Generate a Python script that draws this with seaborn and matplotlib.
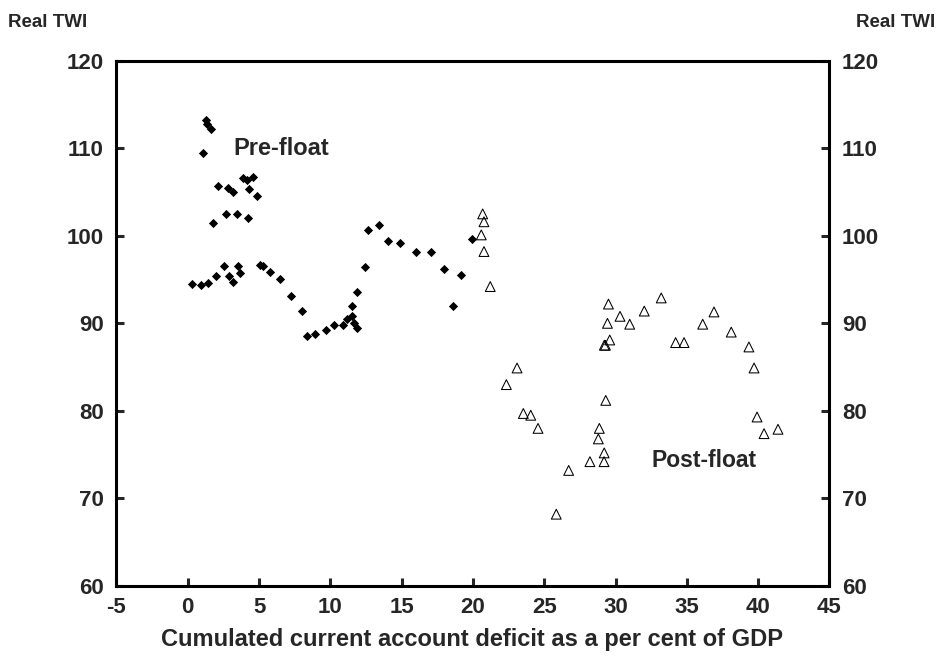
import matplotlib
matplotlib.use("Agg")
import matplotlib.pyplot as plt
import pandas as pd
import seaborn as sns

# pre-float: cumulated CA deficit (% of GDP) vs real TWI
pre_x = [1.26, 1.33, 1.61, 1.05, 2.14, 2.80, 3.19, 3.89, 4.13, 4.59, 4.31, 4.85,
         1.79, 2.70, 3.45, 4.20, 0.29, 0.95, 1.42, 1.98, 2.52, 2.89, 3.17, 3.54,
         3.64, 5.04, 5.29, 5.79, 6.44, 7.27, 8.02, 8.38, 8.94, 9.69, 10.23, 10.88,
         11.16, 11.54, 11.65, 11.84, 11.54, 11.84, 12.41, 12.66, 13.41, 14.04,
         14.88, 16.00, 17.03, 17.95, 19.16, 18.60, 19.91]
pre_y = [113.2, 112.8, 112.2, 109.4, 105.7, 105.5, 105.0, 106.6, 106.4, 106.7, 105.4, 104.5,
         101.5, 102.5, 102.5, 102.0, 94.5, 94.4, 94.6, 95.4, 96.6, 95.4, 94.7, 96.6,
         95.8, 96.7, 96.5, 95.9, 95.1, 93.1, 91.4, 88.5, 88.8, 89.2, 89.8, 89.8,
         90.5, 90.8, 90.0, 89.5, 92.0, 93.6, 96.4, 100.7, 101.2, 99.4,
         99.2, 98.2, 98.1, 96.2, 95.5, 92.0, 99.6]

post_x = [20.68, 20.77, 20.58, 20.77, 21.21, 23.09, 22.34, 23.53, 24.05, 24.56, 25.84,
          26.71, 28.20, 29.19, 29.20, 28.79, 28.86, 29.31, 29.21, 29.29, 29.59, 29.43,
          29.50, 30.31, 30.99, 32.01, 33.20, 34.21, 34.80, 36.11, 36.90, 38.11, 39.35,
          39.71, 39.92, 40.41, 41.39]
post_y = [102.5, 101.6, 100.1, 98.2, 94.2, 84.9, 83.0, 79.7, 79.5, 78.0, 68.2,
          73.2, 74.2, 74.2, 75.2, 76.8, 78.0, 81.2, 87.5, 87.5, 88.1, 90.0,
          92.2, 90.8, 89.9, 91.4, 92.9, 87.8, 87.8, 89.9, 91.3, 89.0, 87.3,
          84.9, 79.3, 77.4, 77.9]

x_ticks = [-5, 0, 5, 10, 15, 20, 25, 30, 35, 40, 45]
y_ticks = [60, 70, 80, 90, 100, 110, 120]

pre = pd.DataFrame({"x": pre_x, "y": pre_y})
post = pd.DataFrame({"x": post_x, "y": post_y})

sns.set_style("white")
plt.rcParams["font.family"] = ["Liberation Sans", "DejaVu Sans"]
plt.rcParams["font.weight"] = "bold"
plt.rcParams["axes.unicode_minus"] = False

fig = plt.figure(figsize=(9.44, 6.61), dpi=100)
ax = fig.add_axes([0.1234, 0.1135, 0.7553, 0.7947])

sns.scatterplot(data=pre, x="x", y="y", marker="D", s=22, color="black",
                edgecolor="black", linewidth=0, ax=ax)
sns.scatterplot(data=post, x="x", y="y", marker="^", s=50, facecolor="none",
                edgecolor="black", linewidth=0.75, ax=ax)

ax.set_xlim(-5, 45)
ax.set_ylim(60, 120)
ax.set_xticks(x_ticks)
ax.set_yticks(y_ticks)
ax.set_xlabel("")
ax.set_ylabel("")

for sp in ax.spines.values():
    sp.set_linewidth(2.2)
    sp.set_color("black")

ax.tick_params(axis="x", direction="in", length=6, width=2.2, bottom=True, top=False,
               labelsize=16, pad=8)
ax.tick_params(axis="y", direction="in", length=6, width=2.2, left=True, right=True,
               labelleft=True, labelright=True, labelsize=16, pad=9)
for lab in ax.get_xticklabels() + ax.get_yticklabels():
    lab.set_fontweight("bold")

ax.text(3.2, 110, "Pre-float", fontsize=17, fontweight="bold", va="center", ha="left")
ax.text(32.5, 74.3, "Post-float", fontsize=16.5, fontweight="bold", va="center", ha="left")

fig.text(0.009, 0.966, "Real TWI", fontsize=13.5, fontweight="bold", va="center", ha="left")
fig.text(0.991, 0.966, "Real TWI", fontsize=13.5, fontweight="bold", va="center", ha="right")
fig.text(0.5, 0.032, "Cumulated current account deficit as a per cent of GDP",
         fontsize=17, fontweight="bold", va="center", ha="center")

fig.savefig("out.png", dpi=100)
